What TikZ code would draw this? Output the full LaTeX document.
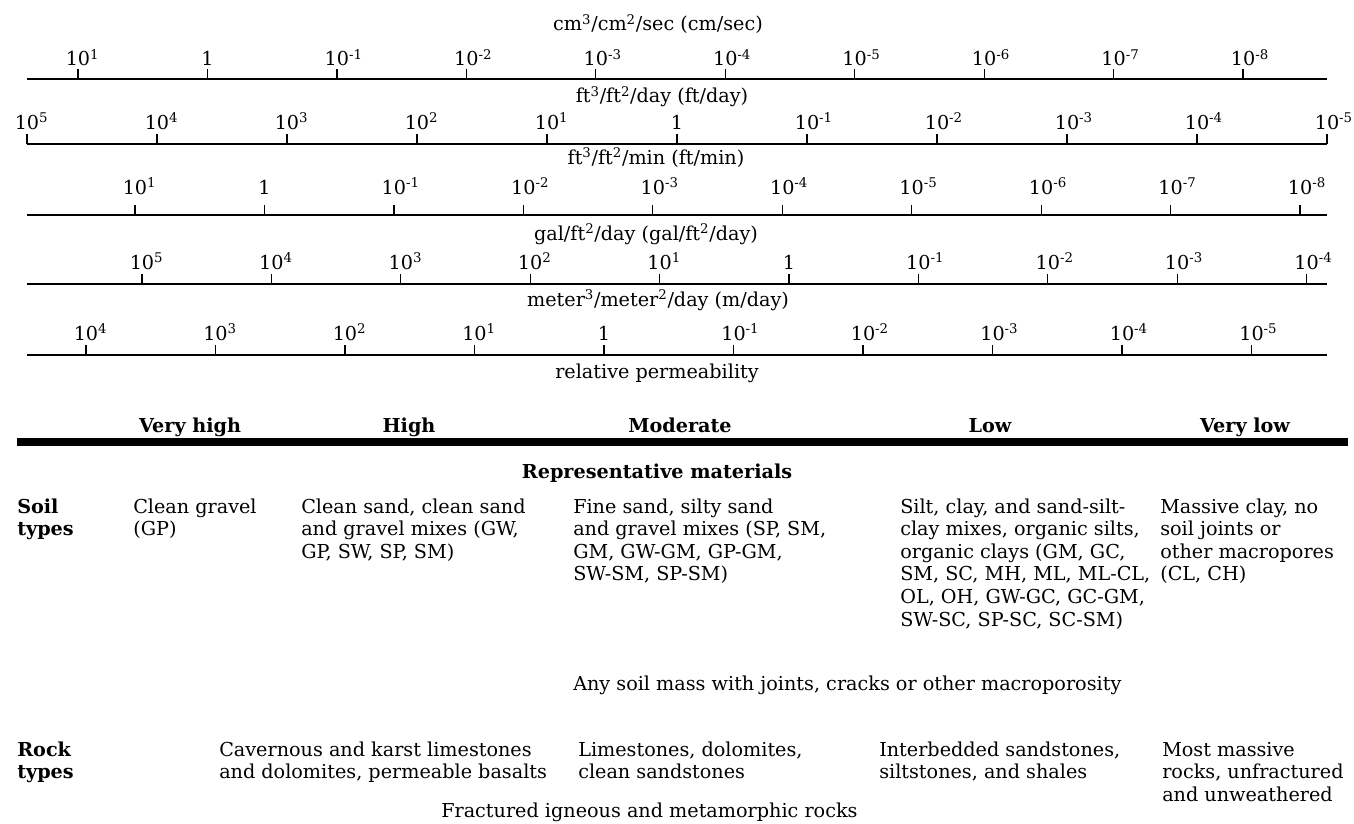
\documentclass[tikz,border=0pt]{standalone}
\usepackage{fontspec}
\setmainfont{DejaVu Serif}
\newcommand\pw[1]{\ifnum#1=0 1\else 10\rlap{\textsuperscript{#1}}\fi}
\newcommand\ml[1]{\begin{tabular}[t]{@{}l@{}}#1\end{tabular}}
\begin{document}
\begin{tikzpicture}[x=0.75pt,y=-0.75pt,
  txt/.style={inner sep=0pt,font=\fontsize{14.4pt}{16.95pt}\selectfont},
  bld/.style={inner sep=0pt,font=\fontsize{14.4pt}{16.95pt}\selectfont\bfseries},
  axisline/.style={line width=2pt},
  tickline/.style={line width=0.9pt},
  ticklab/.style={txt,anchor=base},
  unitlab/.style={txt,anchor=base},
  col/.style={txt,anchor=base west},
  bcol/.style={bld,anchor=base west},
]
\useasboundingbox (0,0) rectangle (1354,824);

% ---------- axis 1 : cm/sec
\node[unitlab] (u1) at (658,31) {cm\textsuperscript{3}/cm\textsuperscript{2}/sec (cm/sec)};
\coordinate (a1L) at (27,79); \coordinate (a1R) at (1327,79);
\draw[axisline] (a1L) -- (a1R);
\foreach \e [count=\k from 0] in {1,0,-1,-2,-3,-4,-5,-6,-7,-8} {
  \pgfmathsetmacro\xx{78+129.45*\k}
  \draw[tickline] (\xx,79) -- (\xx,69);
  \node[ticklab] (a1n\k) at (\xx,66) {\pw{\e}};
}

% ---------- axis 2 : ft/day
\node[unitlab] (u2) at (662,103) {ft\textsuperscript{3}/ft\textsuperscript{2}/day (ft/day)};
\coordinate (a2L) at (27,144); \coordinate (a2R) at (1327,144);
\draw[axisline] (a2L) -- (a2R);
\foreach \e [count=\k from 0] in {5,4,3,2,1,0,-1,-2,-3,-4,-5} {
  \pgfmathsetmacro\xx{27+130*\k}
  \draw[tickline] (\xx,144) -- (\xx,134);
  \node[ticklab] (a2n\k) at (\xx,129) {\pw{\e}};
}

% ---------- axis 3 : ft/min
\node[unitlab] (u3) at (656,164) {ft\textsuperscript{3}/ft\textsuperscript{2}/min (ft/min)};
\coordinate (a3L) at (27,215); \coordinate (a3R) at (1327,215);
\draw[axisline] (a3L) -- (a3R);
\foreach \e [count=\k from 0] in {1,0,-1,-2,-3,-4,-5,-6,-7,-8} {
  \pgfmathsetmacro\xx{135+129.45*\k}
  \draw[tickline] (\xx,215) -- (\xx,205);
  \node[ticklab] (a3n\k) at (\xx,194) {\pw{\e}};
}

% ---------- axis 4 : gal/ft2/day
\node[unitlab] (u4) at (646,240) {gal/ft\textsuperscript{2}/day (gal/ft\textsuperscript{2}/day)};
\coordinate (a4L) at (27,284); \coordinate (a4R) at (1327,284);
\draw[axisline] (a4L) -- (a4R);
\foreach \e [count=\k from 0] in {5,4,3,2,1,0,-1,-2,-3,-4} {
  \pgfmathsetmacro\xx{142+129.4*\k}
  \draw[tickline] (\xx,284) -- (\xx,274);
  \node[ticklab] (a4n\k) at (\xx,269) {\pw{\e}};
}

% ---------- axis 5 : m/day
\node[unitlab] (u5) at (658,306) {meter\textsuperscript{3}/meter\textsuperscript{2}/day (m/day)};
\coordinate (a5L) at (27,355); \coordinate (a5R) at (1327,355);
\draw[axisline] (a5L) -- (a5R);
\foreach \e [count=\k from 0] in {4,3,2,1,0,-1,-2,-3,-4,-5} {
  \pgfmathsetmacro\xx{86+129.5*\k}
  \draw[tickline] (\xx,355) -- (\xx,345);
  \node[ticklab] (a5n\k) at (\xx,340) {\pw{\e}};
}

\node[unitlab] (rel) at (657,378) {relative permeability};

% ---------- categories
\node[bld,anchor=base] (c1) at (190,432) {Very high};
\node[bld,anchor=base] (c2) at (409,432) {High};
\node[bld,anchor=base] (c3) at (680,432) {Moderate};
\node[bld,anchor=base] (c4) at (990,432) {Low};
\node[bld,anchor=base] (c5) at (1245,432) {Very low};
\coordinate (barL) at (17,442); \coordinate (barR) at (1348,442);
\draw[line width=6pt] (barL) -- (barR);

\node[bld,anchor=base] (rep) at (657,478) {Representative materials};

% ---------- soil row
\node[bcol] (soil) at (17,513) {\ml{Soil\\types}};
\node[col] (s1) at (133,513) {\ml{Clean gravel\\(GP)}};
\node[col] (s2) at (301,513) {\ml{Clean sand, clean sand\\and gravel mixes (GW,\\GP, SW, SP, SM)}};
\node[col] (s3) at (573,513) {\ml{Fine sand, silty sand\\and gravel mixes (SP, SM,\\GM, GW-GM, GP-GM,\\SW-SM, SP-SM)}};
\node[col] (s4) at (900,513) {\ml{Silt, clay, and sand-silt-\\clay mixes, organic silts,\\organic clays (GM, GC,\\SM, SC, MH, ML, ML-CL,\\OL, OH, GW-GC, GC-GM,\\SW-SC, SP-SC, SC-SM)}};
\node[col] (s5) at (1160,513) {\ml{Massive clay, no\\soil joints or\\other macropores\\(CL, CH)}};
\node[col] (s6) at (573,690) {Any soil mass with joints, cracks or other macroporosity};

% ---------- rock row
\node[bcol] (rock) at (17,756) {\ml{Rock\\types}};
\node[col] (r1) at (219,756) {\ml{Cavernous and karst limestones\\and dolomites, permeable basalts}};
\node[col] (r2) at (578,756) {\ml{Limestones, dolomites,\\clean sandstones}};
\node[col] (r3) at (879,756) {\ml{Interbedded sandstones,\\siltstones, and shales}};
\node[col] (r4) at (1162,756) {\ml{Most massive\\rocks, unfractured\\and unweathered}};
\node[col] (r5) at (441,817) {Fractured igneous and metamorphic rocks};
\end{tikzpicture}
\end{document}
